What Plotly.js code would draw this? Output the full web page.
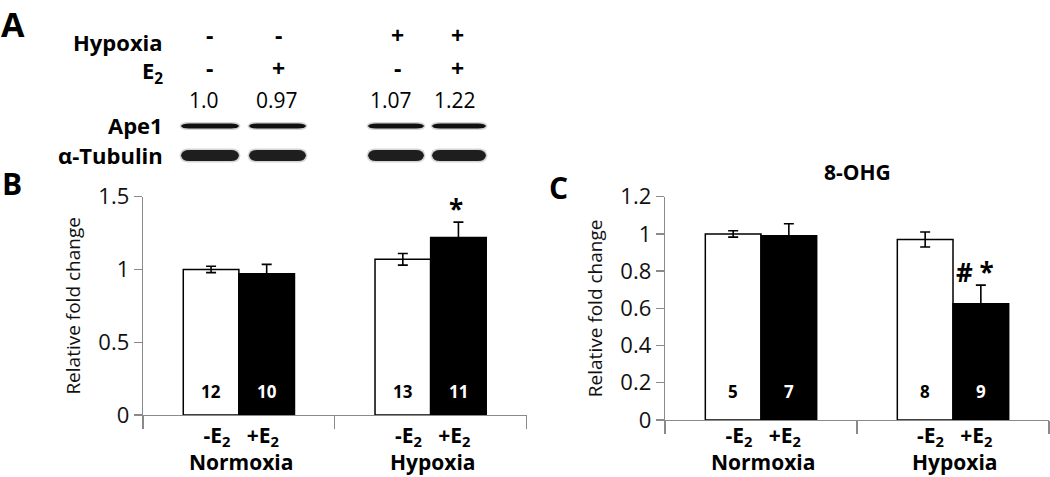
<!DOCTYPE html>
<html>
<head>
<meta charset="utf-8">
<script src="https://cdn.plot.ly/plotly-3.0.1.min.js"></script>
<style>html,body{margin:0;padding:0;background:#fff;}#chart{width:1050px;height:477px;}</style>
</head>
<body>
<div id="chart"></div>
<script>
// ---------- data ----------
const groups = ['Normoxia', 'Hypoxia'];
const treatLabels = ['-E<sub>2</sub>', '+E<sub>2</sub>'];

// Panel B: Ape1 relative fold change
const apeMinus = [1.00, 1.07];
const apePlus = [0.97, 1.22];
const apeErrMinus = [0.022, 0.04];
const apeErrPlus = [0.065, 0.105];
const apeNMinus = [12, 13];
const apeNPlus = [10, 11];
const apeSig = ['', '*'];

// Panel C: 8-OHG relative fold change
const ohgMinus = [1.00, 0.97];
const ohgPlus = [0.99, 0.625];
const ohgErrMinus = [0.017, 0.04];
const ohgErrPlus = [0.065, 0.10];
const ohgNMinus = [5, 8];
const ohgNPlus = [7, 9];
const ohgSig = ['', '# *'];

// Panel A: western blot lanes
const blotHypoxia = ['-', '-', '+', '+'];
const blotE2 = ['-', '+', '-', '+'];
const blotRatio = ['1.0', '0.97', '1.07', '1.22'];
const blotRows = ['Ape1', 'α-Tubulin'];

// ---------- helpers ----------
const W = 1050, H = 477;
const px = x => x / W;
const py = y => 1 - y / H;
const FONT = '"Open Sans", Lato, sans-serif';
const BAR_LINE = {color: '#000', width: 1.5};
const NB = '\u00A0';

function barTraces(minus, plus, eMinus, ePlus, xa, ya) {
  return [
    {type: 'bar', x: groups, y: minus, xaxis: xa, yaxis: ya, name: '-E2', offsetgroup: 'a',
     marker: {color: '#fff', line: BAR_LINE},
     error_y: {type: 'data', array: eMinus, visible: true, color: '#000', thickness: 1.6, width: 5},
     hoverinfo: 'skip', showlegend: false},
    {type: 'bar', x: groups, y: plus, xaxis: xa, yaxis: ya, name: '+E2', offsetgroup: 'b',
     marker: {color: '#000', line: BAR_LINE},
     error_y: {type: 'data', array: ePlus, visible: true, color: '#000', thickness: 1.6, width: 5},
     hoverinfo: 'skip', showlegend: false}
  ];
}

const data = [
  ...barTraces(apeMinus, apePlus, apeErrMinus, apeErrPlus, 'x', 'y'),
  ...barTraces(ohgMinus, ohgPlus, ohgErrMinus, ohgErrPlus, 'x2', 'y2')
];

const axisGrey = '#8a8a8a';
const xBase = {
  type: 'category', showline: true, linecolor: axisGrey, linewidth: 1.3,
  ticks: 'outside', tickson: 'boundaries', ticklen: 13, tickcolor: axisGrey, tickwidth: 1.3,
  showticklabels: false, showgrid: false, zeroline: false, fixedrange: true
};
const yBase = {
  showline: true, linecolor: axisGrey, linewidth: 1.3, ticks: 'outside', ticklen: 8,
  tickcolor: axisGrey, tickwidth: 1.3, showgrid: false, zeroline: false,
  tickfont: {family: FONT, size: 22, color: '#111'},
  title: {text: 'Relative fold change', font: {family: FONT, size: 19, color: '#111'}, standoff: 12},
  fixedrange: true
};

const layout = {
  width: W, height: H,
  margin: {l: 0, r: 0, t: 0, b: 0},
  paper_bgcolor: '#fff', plot_bgcolor: 'rgba(0,0,0,0)',
  showlegend: false,
  barmode: 'group', bargap: 0.42, bargroupgap: 0,
  font: {family: FONT, color: '#000'},
  xaxis: Object.assign({}, xBase, {domain: [px(143), px(526.5)], anchor: 'y'}),
  yaxis: Object.assign({}, yBase, {domain: [py(415), py(196.7)], range: [0, 1.5], tickvals: [0, 0.5, 1, 1.5], anchor: 'x'}),
  xaxis2: Object.assign({}, xBase, {domain: [px(665), px(1049)], anchor: 'y2'}),
  yaxis2: Object.assign({}, yBase, {domain: [py(420), py(196.7)], range: [0, 1.2], tickvals: [0, 0.2, 0.4, 0.6, 0.8, 1, 1.2], anchor: 'x2'}),
  annotations: [],
  shapes: []
};

const ann = layout.annotations;
const boldTxt = (t) => '<b>' + t + '</b>';

// Panel letters
ann.push({text: boldTxt('A'), x: 0, y: 1, xref: 'paper', yref: 'paper', showarrow: false, borderpad: 0,
  font: {family: FONT, size: 34, color: '#000'}, xanchor: 'left', yanchor: 'top'});
[['B', 0, 183], ['C', 547, 187]].forEach(([t, x, y]) => {
  ann.push({text: boldTxt(t), x: px(x), y: py(y), xref: 'paper', yref: 'paper', showarrow: false,
    font: {family: FONT, size: 30, color: '#000'}, xanchor: 'left', yanchor: 'middle'});
});

// Panel C title
ann.push({text: boldTxt('8-OHG'), x: px(857), y: py(172), xref: 'paper', yref: 'paper', showarrow: false,
  font: {family: FONT, size: 21}, xanchor: 'center', yanchor: 'middle'});

// Bar chart annotations
function chartAnn(xa, ya, minus, plus, eMinus, ePlus, nMinus, nPlus, sig, nShift, sigShift) {
  groups.forEach((g, i) => {
    // n counts inside bars
    ann.push({text: boldTxt(String(nMinus[i])), x: g, y: 0, xref: xa, yref: ya, xshift: -27.7, yshift: nShift,
      showarrow: false, font: {family: FONT, size: 17, color: '#000'}, yanchor: 'middle'});
    ann.push({text: boldTxt(String(nPlus[i])), x: g, y: 0, xref: xa, yref: ya, xshift: 27.7, yshift: nShift,
      showarrow: false, font: {family: FONT, size: 17, color: '#fff'}, yanchor: 'middle'});
    // significance
    if (sig[i]) {
      ann.push({text: boldTxt(sig[i]), x: g, y: plus[i] + ePlus[i], xref: xa, yref: ya, xshift: 27.7 + sigShift, yshift: 13,
        showarrow: false, font: {family: FONT, size: 26, color: '#000'}, yanchor: 'middle'});
    }
    // treatment labels + group label (one block)
    const lbl = boldTxt(treatLabels[0] + NB + NB + NB + treatLabels[1]) + '<br>' + boldTxt(g);
    ann.push({text: lbl, x: g, y: py(448.5), xref: xa, yref: 'paper', xshift: 2,
      showarrow: false, font: {family: FONT, size: 21, color: '#000'}, yanchor: 'middle', borderpad: 0});
  });
}
chartAnn('x', 'y', apeMinus, apePlus, apeErrMinus, apeErrPlus, apeNMinus, apeNPlus, apeSig, 23.3, -2);
chartAnn('x2', 'y2', ohgMinus, ohgPlus, ohgErrMinus, ohgErrPlus, ohgNMinus, ohgNPlus, ohgSig, 28.3, -6);

// ---------- Panel A: blot ----------
const laneX = [209, 278, 397, 457];
const laneL = [[181, 239], [249, 306], [368, 424], [432, 486]];
const rowLabelX = 165;
ann.push({text: boldTxt('Hypoxia'), x: px(rowLabelX), y: py(42), xref: 'paper', yref: 'paper', showarrow: false,
  xanchor: 'right', yanchor: 'middle', font: {family: FONT, size: 22}});
ann.push({text: boldTxt('E<sub>2</sub>'), x: px(rowLabelX), y: py(72), xref: 'paper', yref: 'paper', showarrow: false,
  xanchor: 'right', yanchor: 'middle', font: {family: FONT, size: 22}});
blotHypoxia.forEach((s, i) => {
  ann.push({text: boldTxt(s), x: px(laneX[i]), y: py(35), xref: 'paper', yref: 'paper', showarrow: false,
    xanchor: 'center', yanchor: 'middle', font: {family: FONT, size: 23}});
});
blotE2.forEach((s, i) => {
  ann.push({text: boldTxt(s), x: px(laneX[i]), y: py(68), xref: 'paper', yref: 'paper', showarrow: false,
    xanchor: 'center', yanchor: 'middle', font: {family: FONT, size: 23}});
});
const ratioX = [204, 277, 391, 455];
blotRatio.forEach((s, i) => {
  ann.push({text: s, x: px(ratioX[i]), y: py(100), xref: 'paper', yref: 'paper', showarrow: false,
    xanchor: 'center', yanchor: 'middle', font: {family: FONT, size: 21}});
});
const rowY = [126, 155.5];
const rowH = [5, 11];
blotRows.forEach((r, k) => {
  ann.push({text: boldTxt(r), x: px(rowLabelX), y: py(rowY[k] - 1), xref: 'paper', yref: 'paper', showarrow: false,
    xanchor: 'right', yanchor: 'middle', font: {family: FONT, size: 22}});
  laneL.forEach(([x0, x1]) => {
    const band = (pad, col, op) => {
      const yc = rowY[k], h = rowH[k] / 2 + pad, a = x0 - pad, b = x1 + pad, t = 8;
      const path = 'M ' + px(a) + ',' + py(yc) +
        ' Q ' + px(a + 1) + ',' + py(yc - h) + ' ' + px(a + t) + ',' + py(yc - h) +
        ' L ' + px(b - t) + ',' + py(yc - h) +
        ' Q ' + px(b - 1) + ',' + py(yc - h) + ' ' + px(b) + ',' + py(yc) +
        ' Q ' + px(b - 1) + ',' + py(yc + h) + ' ' + px(b - t) + ',' + py(yc + h) +
        ' L ' + px(a + t) + ',' + py(yc + h) +
        ' Q ' + px(a + 1) + ',' + py(yc + h) + ' ' + px(a) + ',' + py(yc) + ' Z';
      layout.shapes.push({type: 'path', path: path, xref: 'paper', yref: 'paper',
        fillcolor: col, opacity: op, line: {width: 0}, layer: 'above'});
    };
    band(1.5, '#888', 0.35);
    band(0, k === 0 ? '#111' : '#1e1e1e', 1);
  });
});

Plotly.newPlot('chart', data, layout, {displayModeBar: false, staticPlot: true});
</script>
</body>
</html>
